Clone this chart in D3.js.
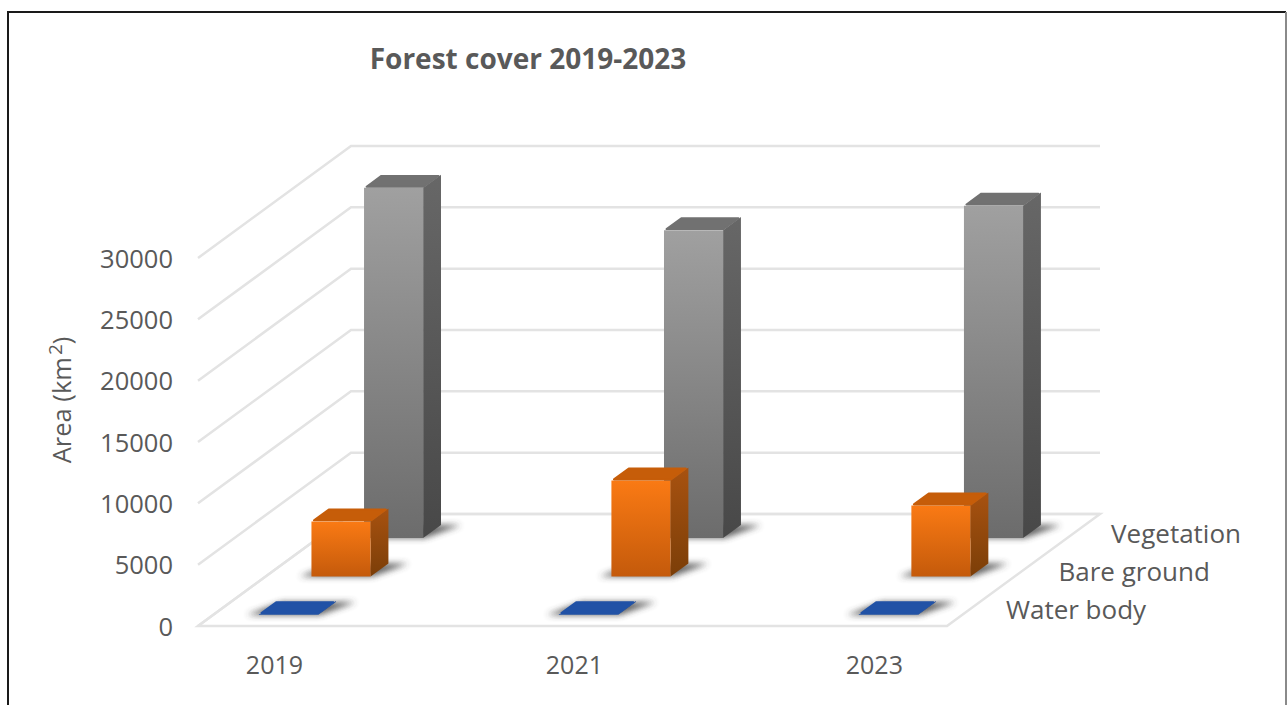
<!DOCTYPE html>
<html>
<head>
<meta charset="utf-8">
<script src="https://cdn.jsdelivr.net/npm/d3@7"></script>
<style>
  html, body { margin: 0; padding: 0; background: #fff; overflow: hidden; }
  text { font-family: "Open Sans", Lato, sans-serif; fill: #595959; }
</style>
</head>
<body>
<script>
// Area per land-cover class, km²
const years = ["2019", "2021", "2023"];
const classes = ["Water body", "Bare ground", "Vegetation"];
const waterBody = [70, 70, 70];
const bareGround = [4490, 7830, 5790];
const vegetation = [28550, 25100, 27100];
const valueTicks = [0, 5000, 10000, 15000, 20000, 25000, 30000];

const seriesValues = { "Water body": waterBody, "Bare ground": bareGround, "Vegetation": vegetation };
const palette = {
  "Water body":  { front: ["#2356ab", "#1d4c9c"], side: ["#1d4c9c", "#1d4c9c"], top: "#2152a6" },
  "Bare ground": { front: ["#fa7a14", "#c45a0b"], side: ["#a85210", "#7b3e08"], top: "#c65d09" },
  "Vegetation":  { front: ["#a0a0a0", "#6c6c6c"], side: ["#676767", "#484848"], top: "#717171" }
};

const width = 1287, height = 705;
const svg = d3.select("body").append("svg").attr("width", width).attr("height", height);
const defs = svg.append("defs");

// Oblique projection: a point (x, value, depth) lands at (x + skewX(depth), y(value) + skewY(depth))
const x = d3.scaleBand().domain(years).range([198, 947]).paddingInner(0.803).paddingOuter(0.15).align(0.51);
const y = d3.scaleLinear().domain([0, 30000]).range([626, 258]);
const depth = d3.scaleBand().domain(classes).range([0, 1]).paddingInner(0.66).paddingOuter(0.285);
const skewX = d3.scaleLinear().domain([0, 1]).range([0, 153]);
const skewY = d3.scaleLinear().domain([0, 1]).range([0, -112]);
const project = (px, value, d) => [px + skewX(d), y(value) + skewY(d)];
const line = d3.line();
const closed = pts => line(pts) + "Z";

// Vertical gradients for bar faces
classes.forEach((c, i) => {
  ["front", "side"].forEach(face => {
    const g = defs.append("linearGradient").attr("id", `${face}-${i}`)
      .attr("x1", 0).attr("y1", 0).attr("x2", 0).attr("y2", 1);
    g.append("stop").attr("offset", 0).attr("stop-color", palette[c][face][0]);
    g.append("stop").attr("offset", 1).attr("stop-color", palette[c][face][1]);
  });
});
defs.append("filter").attr("id", "floorShadow")
  .attr("x", "-30%").attr("y", "-60%").attr("width", "160%").attr("height", "220%")
  .append("feGaussianBlur").attr("stdDeviation", 3);

// Frame
svg.append("path").attr("d", `M8,705V12H1286`).attr("fill", "none").attr("stroke", "#1a1a1a").attr("stroke-width", 2);
svg.append("line").attr("x1", 1286).attr("x2", 1286).attr("y1", 12).attr("y2", 705)
  .attr("stroke", "#8a8a8a").attr("stroke-width", 2);

// Title
svg.append("text").attr("x", 528).attr("y", 69).attr("text-anchor", "middle")
  .attr("font-size", 28).attr("font-weight", 700).text("Forest cover 2019-2023");

// Walls and floor
const [x0, x1] = x.range();
const grid = svg.append("g").attr("fill", "none").attr("stroke", "#e3e3e3").attr("stroke-width", 2.5);
grid.selectAll("path.wall").data(valueTicks).join("path").attr("class", "wall")
  .attr("d", v => line([project(x0, v, 0), project(x0, v, 1), project(x1, v, 1)]));
grid.append("path").attr("d", closed([project(x0, 0, 0), project(x1, 0, 0), project(x1, 0, 1), project(x0, 0, 1)]));

// Bars, back row first so nearer rows overlap them
const rows = svg.append("g");
classes.slice().reverse().forEach(c => {
  const i = classes.indexOf(c);
  const dFront = depth(c), dBack = dFront + depth.bandwidth();
  const row = rows.append("g");
  const bars = row.selectAll("g").data(years.map((yr, k) => ({ yr, v: seriesValues[c][k] }))).join("g");

  bars.append("path").attr("filter", "url(#floorShadow)").attr("fill", "#3a3a3a").attr("opacity", 0.8)
    .attr("d", b => {
      const l = x(b.yr), r = l + x.bandwidth();
      return closed([project(l - 12, 0, dFront), project(r + 2, 0, dFront),
                     project(r + 20, 0, dBack), project(l + 5, 0, dBack)]);
    });
  bars.append("path").attr("fill", `url(#side-${i})`)
    .attr("d", b => {
      const r = x(b.yr) + x.bandwidth();
      return closed([project(r, 0, dFront), project(r, b.v, dFront), project(r, b.v, dBack), project(r, 0, dBack)]);
    });
  bars.append("path").attr("fill", `url(#front-${i})`)
    .attr("d", b => {
      const l = x(b.yr), r = l + x.bandwidth();
      return closed([project(l, 0, dFront), project(r, 0, dFront), project(r, b.v, dFront), project(l, b.v, dFront)]);
    });
  // Top face with softened corners
  bars.append("path").attr("fill", palette[c].top)
    .attr("stroke", palette[c].top).attr("stroke-width", 2).attr("stroke-linejoin", "round")
    .attr("d", b => {
      const l = x(b.yr), r = l + x.bandwidth();
      return closed([project(l + 1, b.v, dFront + 0.01), project(r - 1, b.v, dFront + 0.01),
                     project(r - 1, b.v, dBack - 0.01), project(l + 1, b.v, dBack - 0.01)]);
    });
});

// Value axis
const yAxis = svg.append("g").attr("transform", "translate(181,1)")
  .call(d3.axisLeft(y).tickValues(valueTicks).tickFormat(d3.format("d")).tickSize(0).tickPadding(8));
yAxis.select(".domain").remove();
yAxis.selectAll("text").attr("font-size", 25.5).attr("font-family", null).style("fill", "#595959");

// Year axis
const xAxis = svg.append("g").attr("transform", "translate(1,650)")
  .call(d3.axisBottom(x).tickSize(0).tickPadding(6));
xAxis.select(".domain").remove();
xAxis.selectAll("text").attr("font-size", 25).attr("font-family", null).style("fill", "#595959");

// Series labels along the right edge of the floor
svg.append("g").selectAll("text").data(classes).join("text")
  .attr("x", c => project(x1, 0, depth(c) + depth.bandwidth() / 2)[0] + 35)
  .attr("y", c => project(x1, 0, depth(c) + depth.bandwidth() / 2)[1] + 11)
  .attr("font-size", 26)
  .text(c => c);

// Value axis title
const yTitle = svg.append("text").attr("transform", "translate(71,400) rotate(-90)")
  .attr("text-anchor", "middle").attr("font-size", 25.5);
yTitle.append("tspan").text("Area (km");
yTitle.append("tspan").attr("dy", -9).attr("dx", 2).attr("font-size", 19).text("2");
yTitle.append("tspan").attr("dy", 9).text(")");
</script>
</body>
</html>
